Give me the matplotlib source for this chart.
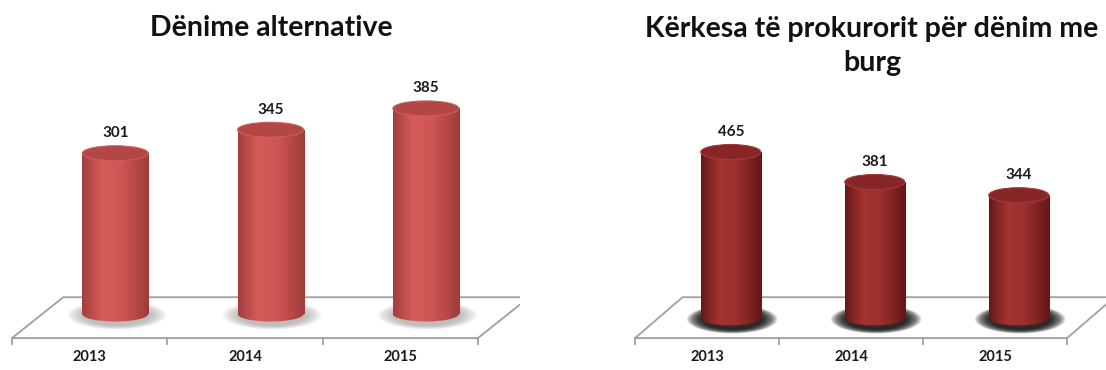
import numpy as np
import matplotlib
matplotlib.use("Agg")
import matplotlib.pyplot as plt
from matplotlib.patches import Ellipse, Polygon, Rectangle
from matplotlib.colors import LinearSegmentedColormap
from matplotlib.transforms import blended_transform_factory

plt.rcParams["font.family"] = ["Lato", "DejaVu Sans"]

# data
years = ["2013", "2014", "2015"]
alt_sentences = [301, 345, 385]
prison_requests = [465, 381, 344]
title_left = "Dënime alternative"
title_right = "Kërkesa të prokurorit për dënim me\nburg"

W, H = 1106, 370
fig = plt.figure(figsize=(W / 100, H / 100), dpi=100)

def px_axes(x0, x1, y0, y1):
    # axes box given in image pixels (top-left origin)
    return fig.add_axes([x0 / W, (H - y1) / H, (x1 - x0) / W, (y1 - y0) / H])

left_style = dict(
    cmap=LinearSegmentedColormap.from_list("l", [(0, "#A23E3C"), (0.3, "#D65C59"),
                                                  (0.6, "#CD5552"), (1, "#9E3B39")]),
    top="#B34744", top_edge="#C9605D", shadow="#8A8A8A", shadow_alpha=0.07)
right_style = dict(
    cmap=LinearSegmentedColormap.from_list("r", [(0, "#641818"), (0.3, "#A53333"),
                                                  (0.6, "#9A2E2E"), (1, "#631818")]),
    top="#872626", top_edge="#A23A3A", shadow="#000000", shadow_alpha=0.16)


def cylinder_chart(ax, values, style, bar_w, ell_h):
    depth = 0.33          # floor depth in category widths
    front, back = 0.041, 0.182   # floor edges, axes fraction
    tr = blended_transform_factory(ax.transData, ax.transAxes)
    n = len(values)

    floor = Polygon([(0, front), (n, front), (n + depth, back), (depth, back)],
                    closed=True, fc="white", ec="#A0A0A0", lw=1.3,
                    transform=tr, zorder=1)
    ax.add_patch(floor)
    for i in range(n + 1):
        ax.plot([i, i], [front, front - 0.022], color="#A0A0A0", lw=1.3,
                transform=tr, zorder=1)
    for i, lab in enumerate(years):
        ax.text(i + 0.5, -0.025, lab, transform=tr, ha="center", va="center",
                fontsize=10.5, fontweight="bold", color="#1a1a1a")

    grad = np.linspace(0, 1, 256).reshape(1, -1)
    for i, v in enumerate(values):
        cx = i + 0.5 + depth / 2
        x0, x1 = cx - bar_w / 2, cx + bar_w / 2
        # soft shadow around the base
        for s in np.linspace(1.5, 1.02, 10):
            ax.add_patch(Ellipse((cx + 0.01, -ell_h * 0.08), bar_w * s, ell_h * (0.4 + s),
                                 fc=style["shadow"], ec="none",
                                 alpha=style["shadow_alpha"], zorder=2))
        # bottom half of the cylinder
        bottom = Ellipse((cx, 0), bar_w, ell_h, fc="none", ec="none", zorder=3)
        ax.add_patch(bottom)
        im = ax.imshow(grad, extent=[x0, x1, -ell_h, ell_h], aspect="auto",
                       cmap=style["cmap"], zorder=3, interpolation="bilinear")
        im.set_clip_path(bottom)
        # body
        body = Rectangle((x0, 0), bar_w, v, fc="none", ec="none", zorder=3)
        ax.add_patch(body)
        im = ax.imshow(grad, extent=[x0, x1, 0, v], aspect="auto",
                       cmap=style["cmap"], zorder=3, interpolation="bilinear")
        im.set_clip_path(body)
        # top cap
        ax.add_patch(Ellipse((cx, v), bar_w, ell_h, fc=style["top"],
                             ec=style["top_edge"], lw=0.8, zorder=4))
        ax.annotate(str(v), (cx, v), xytext=(0, 14.5), textcoords="offset points",
                    ha="center", va="center", fontsize=11, fontweight="bold",
                    color="#1a1a1a", zorder=5)
    ax.axis("off")


# left panel: x unit 155.3 px, zero line at y=314 px, 0.534 px per value unit
ax1 = px_axes(5, 520, 60, 350)
cylinder_chart(ax1, alt_sentences, left_style, 0.425, 15 / 0.534)
ax1.set_xlim(-7 / 155.3, 508 / 155.3)
ax1.set_ylim(-(350 - 314) / 0.534, (314 - 60) / 0.534)

# right panel: x unit 144 px, zero line at y=318 px, 0.357 px per value unit
ax2 = px_axes(628, 1106, 60, 350)
cylinder_chart(ax2, prison_requests, right_style, 0.417, 15 / 0.357)
ax2.set_xlim(-7 / 144, 471 / 144)
ax2.set_ylim(-(350 - 318) / 0.357, (318 - 60) / 0.357)

fig.text(271 / W, 1 - 28 / H, title_left, ha="center", va="center",
         fontsize=20.5, fontweight="bold", color="#111111")
fig.text(872 / W, 1 - 46 / H, title_right, ha="center", va="center",
         fontsize=20.5, fontweight="bold", color="#111111", linespacing=1.4)

fig.savefig("out.png", dpi=100, facecolor="white")
